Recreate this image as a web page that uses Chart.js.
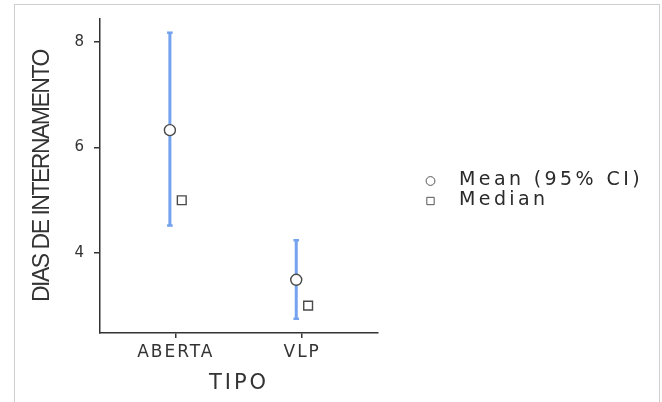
<!DOCTYPE html>
<html>
<head>
<meta charset="utf-8">
<script src="https://cdn.jsdelivr.net/npm/chart.js@4/dist/chart.umd.min.js"></script>
<style>
  html, body { margin: 0; padding: 0; background: #ffffff; overflow: hidden; }
  #wrap { position: relative; width: 662px; height: 402px; }
  #chart { position: absolute; left: 0; top: 0; }
  #frame { position: absolute; left: 14px; top: 4px; width: 644px; height: 430px;
           border: 1px solid #cfcfcf; pointer-events: none; }
</style>
</head>
<body>
<div id="wrap">
  <canvas id="chart" width="662" height="402"></canvas>
  <div id="frame"></div>
</div>
<script>
// ---- data ----
const categories = ['ABERTA', 'VLP'];
const meanValues = [6.33, 3.49];
const ciLower = [4.52, 2.75];
const ciUpper = [8.18, 4.24];
const medianValues = [5.0, 3.0];
const yTickValues = [4, 6, 8];
const legendLabels = ['Mean (95% CI)', 'Median'];

// ---- style ----
const DODGE = 0.047;
const BAR_COLOR = '#74a2ee';
const MARK_COLOR = '#4a4a4a';
const TEXT_COLOR = '#333333';
const AXIS_COLOR = '#333333';

const datasets = [];
datasets.push({
  label: legendLabels[0],
  data: categories.map((c, i) => ({ x: i + 1 - DODGE, y: meanValues[i] })),
  pointStyle: 'circle', pointRadius: 5.5, pointBackgroundColor: '#ffffff',
  pointBorderColor: MARK_COLOR, pointBorderWidth: 1.4, showLine: false, order: 0
});
datasets.push({
  label: legendLabels[1],
  data: categories.map((c, i) => ({ x: i + 1 + DODGE, y: medianValues[i] })),
  pointStyle: 'rect', pointRadius: 6.2, pointBackgroundColor: '#ffffff',
  pointBorderColor: MARK_COLOR, pointBorderWidth: 1.4, showLine: false, order: 1
});
categories.forEach((c, i) => {
  datasets.push({
    label: 'ci-' + c,
    data: [{ x: i + 1 - DODGE, y: ciLower[i] }, { x: i + 1 - DODGE, y: ciUpper[i] }],
    showLine: true, borderColor: BAR_COLOR, borderWidth: 3,
    pointStyle: 'line', pointRadius: 2.8, pointBorderWidth: 2.5,
    pointBorderColor: BAR_COLOR, pointBackgroundColor: BAR_COLOR, order: 2
  });
});

const spacing = { x: { labels: '2px', title: '3px' }, y: { labels: '0px', title: '-1.5px' } };

const spacingPlugin = {
  id: 'spacing',
  afterLayout(chart) {
    Object.keys(spacing).forEach(id => {
      const s = chart.scales[id];
      if (!s || s._spWrapped) return;
      const oL = s.drawLabels, oT = s.drawTitle;
      s.drawLabels = function (a) { const p = this.ctx.letterSpacing; this.ctx.letterSpacing = spacing[id].labels; oL.call(this, a); this.ctx.letterSpacing = p || '0px'; };
      s.drawTitle = function (a) { const p = this.ctx.letterSpacing; this.ctx.letterSpacing = spacing[id].title; oT.call(this, a); this.ctx.letterSpacing = p || '0px'; };
      s._spWrapped = true;
    });
  }
};

const legendPlugin = {
  id: 'sideLegend',
  afterDraw(chart) {
    const ctx = chart.ctx;
    const items = [
      { text: legendLabels[0], style: 'circle', r: 4.4, y: 181 },
      { text: legendLabels[1], style: 'rect', r: 5.2, y: 201 }
    ];
    ctx.save();
    items.forEach(it => {
      ctx.fillStyle = '#ffffff';
      ctx.strokeStyle = '#555555';
      ctx.lineWidth = 1;
      Chart.helpers.drawPoint(ctx, { pointStyle: it.style, radius: it.r, rotation: 0, borderWidth: 1 }, 430.5, it.y);
      ctx.fillStyle = '#2a2a2a';
      ctx.font = '19px "DejaVu Sans"';
      ctx.textBaseline = 'middle';
      ctx.textAlign = 'left';
      ctx.letterSpacing = '3.4px';
      ctx.fillText(it.text, 459, it.y - 1);
      ctx.letterSpacing = '0px';
    });
    ctx.restore();
  }
};

new Chart(document.getElementById('chart'), {
  type: 'scatter',
  data: { datasets },
  plugins: [spacingPlugin, legendPlugin],
  options: {
    responsive: false,
    animation: false,
    devicePixelRatio: 1,
    layout: { padding: { left: 0, right: 284, top: 19, bottom: 0 } },
    plugins: { legend: { display: false }, tooltip: { enabled: false } },
    scales: {
      x: {
        type: 'linear', min: 0.4, max: 2.6,
        afterBuildTicks: s => { s.ticks = categories.map((c, i) => ({ value: i + 1 })); },
        afterFit: s => { s.height = 69; },
        ticks: {
          callback: (v, i) => categories[i],
          font: { family: 'DejaVu Sans', size: 17 }, color: TEXT_COLOR,
          padding: 4, autoSkip: false, maxRotation: 0
        },
        grid: { display: true, drawOnChartArea: false, drawTicks: true, tickLength: 5, color: AXIS_COLOR, lineWidth: 1.5 },
        border: { display: true, color: AXIS_COLOR, width: 1.5 },
        title: { display: true, text: 'TIPO', color: AXIS_COLOR,
                 font: { family: 'DejaVu Sans', size: 21 }, padding: { top: 0, bottom: 6 } }
      },
      y: {
        type: 'linear', min: 2.48, max: 8.44,
        afterBuildTicks: s => { s.ticks = yTickValues.map(v => ({ value: v })); },
        afterFit: s => { s.width = 100; },
        ticks: { font: { family: 'DejaVu Sans', size: 15 }, color: TEXT_COLOR, padding: 10 },
        grid: { display: true, drawOnChartArea: false, drawTicks: true, tickLength: 6, color: AXIS_COLOR, lineWidth: 1.5 },
        border: { display: true, color: AXIS_COLOR, width: 1.5 },
        title: { display: true, text: 'DIAS DE INTERNAMENTO', color: AXIS_COLOR,
                 font: { family: '"Liberation Sans"', size: 23 }, padding: { top: 29, bottom: 0 } }
      }
    }
  }
});
</script>
</body>
</html>
